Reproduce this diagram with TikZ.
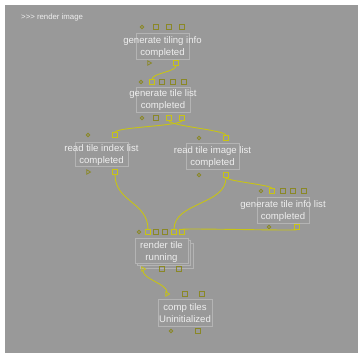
\documentclass[tikz,border=0pt]{standalone}
\usepackage{fontspec}
\setmainfont{Liberation Sans}
\usetikzlibrary{shapes.geometric}

\definecolor{canvas}{HTML}{999999}
\definecolor{boxline}{HTML}{B4B4B4}
\definecolor{labelcol}{HTML}{EEEEEE}
\definecolor{portdim}{HTML}{8A8826}
\definecolor{porthot}{HTML}{C8C414}

\tikzset{
  blk/.style={draw=boxline, fill=canvas, line width=1pt, inner sep=0pt, minimum width=53pt, minimum height=26pt},
  lbl/.style={text=labelcol, font=\fontsize{9.6}{12}\selectfont, align=center, inner sep=0pt},
  pin/.style={circle, draw=portdim, line width=0.8pt, inner sep=0pt, minimum size=3.6pt},
  pad/.style={rectangle, draw=portdim, line width=0.8pt, inner sep=0pt, minimum size=4.4pt},
  tip/.style={regular polygon, regular polygon sides=3, shape border rotate=-90, draw=portdim, line width=0.8pt, inner sep=0pt, minimum size=5pt},
  hot/.style={draw=porthot},
  wire/.style={draw=porthot, line width=0.9pt}
}

\begin{document}
\begin{tikzpicture}[x=1pt, y=-1pt]
  \useasboundingbox (0,0) rectangle (359,354);
  \fill[canvas] (5,5) rectangle (358,353);
  \node[anchor=west, text=labelcol, font=\fontsize{7.8}{9}\selectfont, inner sep=0pt] (title) at (21,17) {>\kern0pt>\kern0pt> render image};

  % generate tiling info
  \node[blk] (tiling) at (162.5,46) {};
  \node[lbl] (tilingtxt) at (162.5,47) {generate tiling info\\completed};
  \node[pin] (tiling-i1) at (142,27) {};
  \node[pad] (tiling-i2) at (156,27) {};
  \node[pad] (tiling-i3) at (169,27) {};
  \node[pad] (tiling-i4) at (182,27) {};
  \node[tip] (tiling-o1) at (149,63) {};
  \node[pad, hot] (tiling-o2) at (176,63) {};

  % generate tile list
  \node[blk, minimum width=54pt, minimum height=25pt] (list) at (163,99.5) {};
  \node[lbl] (listtxt) at (163,100.5) {generate tile list\\completed};
  \node[pin] (list-i1) at (141,82) {};
  \node[pad, hot] (list-i2) at (152,82) {};
  \node[pad] (list-i3) at (162,82) {};
  \node[pad] (list-i4) at (173,82) {};
  \node[pad] (list-i5) at (184,82) {};
  \node[pin] (list-o1) at (142,118) {};
  \node[pad] (list-o2) at (156,118) {};
  \node[pad, hot] (list-o3) at (169,118) {};
  \node[pad, hot] (list-o4) at (182,118) {};

  % read tile index list
  \node[blk, minimum height=24pt] (index) at (101.5,154) {};
  \node[lbl] (indextxt) at (101.5,155) {read tile index list\\completed};
  \node[pin] (index-i1) at (88,135) {};
  \node[pad, hot] (index-i2) at (115,135) {};
  \node[tip] (index-o1) at (88,172) {};
  \node[pad, hot] (index-o2) at (115,172) {};

  % read tile image list
  \node[blk] (image) at (212.5,156) {};
  \node[lbl] (imagetxt) at (212.5,157) {read tile image list\\completed};
  \node[pin] (image-i1) at (199,138) {};
  \node[pad, hot] (image-i2) at (226,138) {};
  \node[pin] (image-o1) at (199,175) {};
  \node[pad, hot] (image-o2) at (226,175) {};

  % generate tile info list
  \node[blk, minimum width=52pt] (info) at (283,210) {};
  \node[lbl] (infotxt) at (283,211) {generate tile info list\\completed};
  \node[pin] (info-i1) at (261,191) {};
  \node[pad, hot] (info-i2) at (272,191) {};
  \node[pad] (info-i3) at (283,191) {};
  \node[pad] (info-i4) at (293,191) {};
  \node[pad] (info-i5) at (304,191) {};
  \node[pin] (info-o1) at (269,227) {};
  \node[pad, hot] (info-o2) at (297,227) {};

  % render tile (stacked)
  \node[blk, minimum height=25pt] (render-back) at (166.5,255.5) {};
  \node[blk, minimum height=25pt] (render-mid) at (164,253) {};
  \node[blk, minimum height=25pt] (render) at (161.5,250.5) {};
  \node[lbl] (rendertxt) at (161.5,252) {render tile\\running};
  \node[pin] (render-i1) at (139,232) {};
  \node[pad, hot] (render-i2) at (148,232) {};
  \node[pad] (render-i3) at (156,232) {};
  \node[pad] (render-i4) at (165,232) {};
  \node[pad, hot] (render-i5) at (174,232) {};
  \node[pad, hot] (render-i6) at (182,232) {};
  \node[tip, hot] (render-o1) at (143,269) {};
  \node[pad] (render-o2) at (162,269) {};
  \node[pad] (render-o3) at (179,269) {};

  % comp tiles
  \node[blk, minimum width=54pt, minimum height=27pt] (comp) at (185,312.5) {};
  \node[lbl] (comptxt) at (185,313.5) {comp tiles\\Uninitialized};
  \node[tip, hot] (comp-i1) at (167,294) {};
  \node[pad] (comp-i2) at (185,294) {};
  \node[pad] (comp-i3) at (202,294) {};
  \node[pin] (comp-o1) at (171,331) {};
  \node[pad] (comp-o2) at (198,331) {};

  % wires
  \draw[wire] (tiling-o2) .. controls +(0,9) and +(0,-9) .. (list-i2);
  \draw[wire] (list-o4) .. controls +(0,8) and +(0,-8) .. (index-i2);
  \draw[wire] (list-o3) .. controls +(0,8) and +(0,-8) .. (image-i2);
  \draw[wire] (index-o2) .. controls +(0,30) and +(0,-30) .. (render-i2);
  \draw[wire] (image-o2) .. controls +(0,30) and +(0,-30) .. (render-i5);
  \draw[wire] (image-o2) .. controls +(0,6) and +(0,-6) .. (info-i2);
  \draw[wire] (info-o2) .. controls +(0,4) and +(0,-4) .. (render-i6);
  \draw[wire] (render-o1) .. controls +(0,10) and +(0,-10) .. (comp-i1);
\end{tikzpicture}
\end{document}
